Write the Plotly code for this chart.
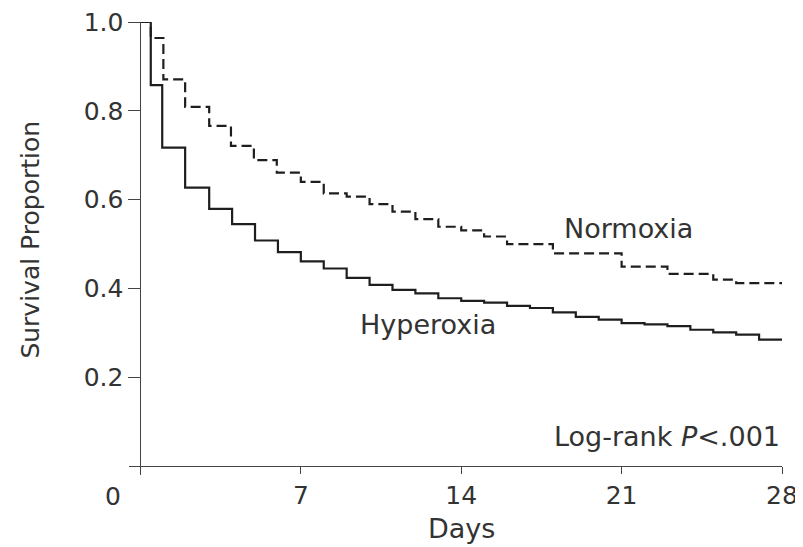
import plotly.graph_objects as go

# Kaplan-Meier step data (days, survival proportion)
hyper_days = [0, 0.45, 0.95, 1.95, 3, 4, 5, 6, 7, 8, 9, 10, 11, 12, 13, 14, 15, 16, 17, 18, 19, 20, 21, 22, 23, 24, 25, 26, 27, 28]
hyper_surv = [1.0, 0.858, 0.717, 0.627, 0.579, 0.545, 0.508, 0.482, 0.461, 0.445, 0.424, 0.408, 0.397, 0.389, 0.378, 0.372, 0.368, 0.361, 0.356, 0.346, 0.336, 0.330, 0.322, 0.319, 0.315, 0.307, 0.301, 0.296, 0.285, 0.285]

normo_days = [0, 0.45, 1.0, 1.95, 3, 3.95, 4.95, 5.95, 7, 8, 9, 10, 11, 12, 13, 14, 15, 16, 18, 21, 23, 25, 26, 28]
normo_surv = [1.0, 0.964, 0.871, 0.809, 0.766, 0.721, 0.689, 0.661, 0.640, 0.614, 0.607, 0.590, 0.573, 0.556, 0.539, 0.531, 0.517, 0.500, 0.479, 0.449, 0.433, 0.420, 0.412, 0.412]

x_ticks = [7, 14, 21, 28]
x_ticklabels = ["7", "14", "21", "28"]
y_ticks = [0.2, 0.4, 0.6, 0.8, 1.0]
y_ticklabels = ["0.2", "0.4", "0.6", "0.8", "1.0"]

FONT = "DejaVu Sans"
TXT = "#333333"
AX = "#444444"

# page body has an 8px default margin; figure sized so it fills the 803x547 window
W, H = 795, 539
ML, MR, MT, MB = 121, 21, 14, 72
PW, PH = W - ML - MR, H - MT - MB

fig = go.Figure()
fig.add_trace(go.Scatter(x=normo_days, y=normo_surv, mode="lines", line_shape="hv",
                         line=dict(color="#1e1e1e", width=2.2, dash="10px,5px"),
                         name="Normoxia", hoverinfo="skip"))
fig.add_trace(go.Scatter(x=hyper_days, y=hyper_surv, mode="lines", line_shape="hv",
                         line=dict(color="#1e1e1e", width=2.2),
                         name="Hyperoxia", hoverinfo="skip"))

xr = [-0.5, 28]
yr = [-0.02, 1.0]

fig.update_layout(
    width=W, height=H,
    margin=dict(l=ML, r=MR, t=MT, b=MB, autoexpand=False),
    paper_bgcolor="white", plot_bgcolor="white",
    showlegend=False,
    font=dict(family=FONT, color=TXT),
    xaxis=dict(range=xr, anchor="free", position=(0 - yr[0]) / (yr[1] - yr[0]),
               tickvals=x_ticks, ticktext=x_ticklabels,
               ticks="outside", ticklen=7, tickwidth=1, tickcolor=AX,
               showline=True, linecolor=AX, linewidth=1,
               showgrid=False, zeroline=False, automargin=False,
               ticklabeloverflow="allow",
               tickfont=dict(family=FONT, size=25, color=TXT)),
    yaxis=dict(range=yr, anchor="free", position=(0 - xr[0]) / (xr[1] - xr[0]),
               tickvals=y_ticks, ticktext=y_ticklabels,
               ticks="outside", ticklen=12, tickwidth=1, tickcolor=AX,
               showline=True, linecolor=AX, linewidth=1,
               showgrid=False, zeroline=False, automargin=False,
               ticklabeloverflow="allow",
               tickfont=dict(family=FONT, size=25, color=TXT)),
)

def px(xpix):
    return (xpix - 8 - ML) / PW

def py(ypix):
    return (H - MB - (ypix - 8)) / PH

fig.add_annotation(text="0", xref="paper", yref="paper", x=px(113), y=py(496),
                   showarrow=False, xanchor="center", yanchor="middle",
                   font=dict(family=FONT, size=25, color=TXT))
fig.add_annotation(text="Days", xref="x", yref="paper", x=14, y=py(528),
                   showarrow=False, xanchor="center", yanchor="middle",
                   font=dict(family=FONT, size=27, color=TXT))
fig.add_annotation(text="Survival Proportion", xref="paper", yref="y",
                   x=px(31), y=0.51, textangle=-90,
                   showarrow=False, xanchor="center", yanchor="middle",
                   font=dict(family=FONT, size=25, color=TXT))
fig.add_annotation(text="Normoxia", xref="x", yref="y", x=21.3, y=0.536,
                   showarrow=False, xanchor="center", yanchor="middle",
                   font=dict(family=FONT, size=27, color=TXT))
fig.add_annotation(text="Hyperoxia", xref="x", yref="y", x=12.57, y=0.32,
                   showarrow=False, xanchor="center", yanchor="middle",
                   font=dict(family=FONT, size=27, color=TXT))
fig.add_annotation(text="Log-rank <i>P</i>&lt;.001", xref="x", yref="y", x=28, y=0.067,
                   showarrow=False, xanchor="right", yanchor="middle",
                   font=dict(family=FONT, size=27, color=TXT))

fig.write_html("out.html")
